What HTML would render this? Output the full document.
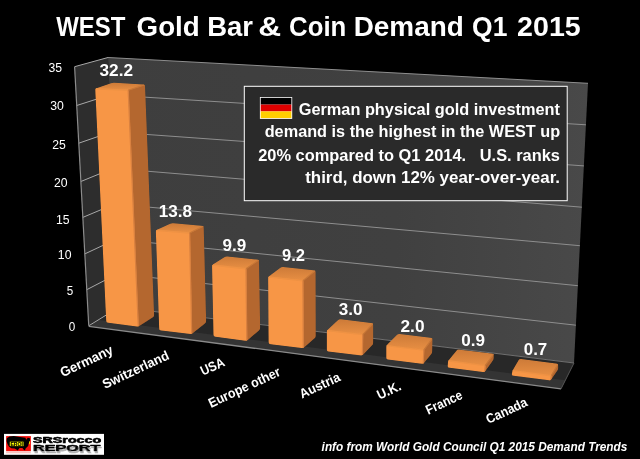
<!DOCTYPE html>
<html lang="en">
<head>
<meta charset="utf-8">
<title>WEST Gold Bar &amp; Coin Demand Q1 2015</title>
<style>
html,body{margin:0;padding:0;background:#000;}
body{width:640px;height:459px;overflow:hidden;position:relative;font-family:"Liberation Sans",Arial,sans-serif;}
</style>
</head>
<body>
<svg width="640" height="459" viewBox="0 0 640 459" style="position:absolute;left:0;top:0;display:block">
<defs>
<linearGradient id="gb" x1="0" y1="0" x2="1" y2="0"><stop offset="0" stop-color="#3e3e3e"/><stop offset="0.6" stop-color="#404040"/><stop offset="1" stop-color="#494949"/></linearGradient>
</defs>
<rect width="640" height="459" fill="#000"/>
<polygon points="74.60,66.70 108.00,57.50 119.00,307.20 88.75,325.80" fill="#2d2d2d"/>
<polygon points="108.00,57.50 588.00,83.30 574.00,363.00 119.00,307.20" fill="url(#gb)"/>
<polygon points="88.75,326.30 119.00,307.20 574.00,363.00 561.00,388.90" fill="#282828"/>
<polygon points="88.75,326.30 98.73,320.00 565.29,380.35 561.00,388.90" fill="#343434"/>
<polyline points="74.60,66.70 108.00,57.50" fill="none" stroke="#a8a8a8" stroke-width="1"/>
<polyline points="108.00,57.50 588.00,83.30" fill="none" stroke="#8e8e8e" stroke-width="1"/>
<polyline points="76.72,105.50 109.65,94.95" fill="none" stroke="#a8a8a8" stroke-width="1"/>
<polyline points="109.65,94.95 585.92,124.80" fill="none" stroke="#8e8e8e" stroke-width="1"/>
<polyline points="78.78,143.20 111.28,131.91" fill="none" stroke="#a8a8a8" stroke-width="1"/>
<polyline points="111.28,131.91 583.87,165.90" fill="none" stroke="#8e8e8e" stroke-width="1"/>
<polyline points="80.87,181.50 112.88,168.37" fill="none" stroke="#a8a8a8" stroke-width="1"/>
<polyline points="112.88,168.37 581.80,207.20" fill="none" stroke="#8e8e8e" stroke-width="1"/>
<polyline points="82.83,217.40 114.46,204.07" fill="none" stroke="#a8a8a8" stroke-width="1"/>
<polyline points="114.46,204.07 579.87,245.70" fill="none" stroke="#8e8e8e" stroke-width="1"/>
<polyline points="84.82,253.90 116.01,239.28" fill="none" stroke="#a8a8a8" stroke-width="1"/>
<polyline points="116.01,239.28 577.87,285.70" fill="none" stroke="#8e8e8e" stroke-width="1"/>
<polyline points="86.78,289.70 117.53,273.74" fill="none" stroke="#a8a8a8" stroke-width="1"/>
<polyline points="117.53,273.74 575.89,325.20" fill="none" stroke="#8e8e8e" stroke-width="1"/>
<polyline points="88.75,325.80 119.00,307.20" fill="none" stroke="#a8a8a8" stroke-width="1"/>
<polyline points="119.00,307.20 574.00,363.00" fill="none" stroke="#707070" stroke-width="1"/>
<polyline points="74.60,66.70 88.75,325.80" fill="none" stroke="#8c8c8c" stroke-width="1.2"/>
<polyline points="88.75,326.30 561.00,388.90" fill="none" stroke="#8a8a8a" stroke-width="1.3"/>
<polyline points="561.00,388.90 574.00,363.00" fill="none" stroke="#555" stroke-width="1"/>
<defs>
<linearGradient id="gt" x1="0" y1="0" x2="0" y2="1"><stop offset="0" stop-color="#cc7a38"/><stop offset="1" stop-color="#e88f43"/></linearGradient>
<clipPath id="c0"><path d="M95.28 90.50 Q95.20 88.70 96.90 88.11 L111.00 83.19 Q112.70 82.60 114.50 82.71 L143.20 84.49 Q145.00 84.60 145.07 86.40 L154.13 314.80 Q154.20 316.60 152.68 317.57 L139.82 325.83 Q138.30 326.80 136.52 326.56 L108.03 322.74 Q106.25 322.50 106.17 320.70Z"/></clipPath>
<clipPath id="c1"><path d="M155.86 232.00 Q155.80 230.20 157.44 229.46 L170.16 223.74 Q171.80 223.00 173.59 223.16 L201.91 225.74 Q203.70 225.90 203.75 227.70 L206.15 320.80 Q206.20 322.60 204.79 323.72 L193.11 332.98 Q191.70 334.10 189.91 333.89 L160.99 330.41 Q159.20 330.20 159.14 328.40Z"/></clipPath>
<clipPath id="c2"><path d="M212.04 266.80 Q212.00 265.00 213.52 264.04 L224.28 257.26 Q225.80 256.30 227.59 256.49 L257.21 259.61 Q259.00 259.80 259.03 261.60 L260.17 327.70 Q260.20 329.50 258.83 330.67 L248.17 339.73 Q246.80 340.90 245.02 340.66 L215.28 336.64 Q213.50 336.40 213.46 334.60Z"/></clipPath>
<clipPath id="c3"><path d="M268.11 278.70 Q268.10 276.90 269.54 275.82 L280.06 267.88 Q281.50 266.80 283.29 266.99 L313.81 270.21 Q315.60 270.40 315.61 272.20 L315.79 335.40 Q315.80 337.20 314.45 338.40 L304.65 347.10 Q303.30 348.30 301.51 348.07 L270.39 344.13 Q268.60 343.90 268.59 342.10Z"/></clipPath>
<clipPath id="c4"><path d="M326.80 332.30 Q326.80 330.50 328.13 329.28 L337.87 320.32 Q339.20 319.10 340.99 319.32 L371.41 323.08 Q373.20 323.30 373.20 325.10 L373.20 342.40 Q373.20 344.20 371.96 345.51 L363.64 354.29 Q362.40 355.60 360.61 355.39 L328.59 351.61 Q326.80 351.40 326.80 349.60Z"/></clipPath>
<clipPath id="c5"><path d="M386.25 347.40 Q386.25 345.60 387.52 344.33 L396.83 335.02 Q398.10 333.75 399.89 333.98 L430.71 337.87 Q432.50 338.10 432.46 339.90 L432.24 351.20 Q432.20 353.00 431.07 354.40 L424.43 362.60 Q423.30 364.00 421.51 363.78 L388.04 359.62 Q386.25 359.40 386.25 357.60Z"/></clipPath>
<clipPath id="c6"><path d="M447.94 362.59 Q448.10 360.80 449.25 359.41 L456.35 350.79 Q457.50 349.40 459.29 349.61 L491.96 353.54 Q493.75 353.75 493.75 355.55 L493.75 357.60 Q493.75 359.40 492.71 360.87 L485.64 370.83 Q484.60 372.30 482.81 372.07 L449.29 367.73 Q447.50 367.50 447.66 365.71Z"/></clipPath>
<clipPath id="c7"><path d="M512.15 372.37 Q512.50 370.60 513.41 369.04 L518.49 360.31 Q519.40 358.75 521.19 358.98 L556.31 363.52 Q558.10 363.75 558.17 365.55 L558.23 367.40 Q558.30 369.20 557.29 370.69 L551.61 379.11 Q550.60 380.60 548.81 380.37 L513.29 375.83 Q511.50 375.60 511.85 373.83Z"/></clipPath>
</defs>
<g clip-path="url(#c0)">
<polygon points="128.20,90.20 145.00,84.60 154.20,316.60 138.30,326.80" fill="#b4672f" stroke="#b4672f" stroke-width="0.6"/>
<polygon points="95.20,88.70 112.70,82.60 145.00,84.60 128.20,90.20" fill="url(#gt)" stroke="#dc863f" stroke-width="0.5"/>
<polygon points="95.20,88.70 128.20,90.20 138.30,326.80 106.25,322.50" fill="#f79646" stroke="#f79646" stroke-width="0.6"/>
<polyline points="95.20,88.70 128.20,90.20" fill="none" stroke="#ee9244" stroke-width="1.4"/>
<polyline points="128.20,90.20 138.30,326.80" fill="none" stroke="#d98140" stroke-width="1.2"/>
<polyline points="128.20,90.20 145.00,84.60" fill="none" stroke="#c87838" stroke-width="1.2"/>
</g>
<g clip-path="url(#c1)">
<polygon points="189.60,233.00 203.70,225.90 206.20,322.60 191.70,334.10" fill="#b4672f" stroke="#b4672f" stroke-width="0.6"/>
<polygon points="155.80,230.20 171.80,223.00 203.70,225.90 189.60,233.00" fill="url(#gt)" stroke="#dc863f" stroke-width="0.5"/>
<polygon points="155.80,230.20 189.60,233.00 191.70,334.10 159.20,330.20" fill="#f79646" stroke="#f79646" stroke-width="0.6"/>
<polyline points="155.80,230.20 189.60,233.00" fill="none" stroke="#ee9244" stroke-width="1.4"/>
<polyline points="189.60,233.00 191.70,334.10" fill="none" stroke="#d98140" stroke-width="1.2"/>
<polyline points="189.60,233.00 203.70,225.90" fill="none" stroke="#c87838" stroke-width="1.2"/>
</g>
<g clip-path="url(#c2)">
<polygon points="246.00,268.80 259.00,259.80 260.20,329.50 246.80,340.90" fill="#b4672f" stroke="#b4672f" stroke-width="0.6"/>
<polygon points="212.00,265.00 225.80,256.30 259.00,259.80 246.00,268.80" fill="url(#gt)" stroke="#dc863f" stroke-width="0.5"/>
<polygon points="212.00,265.00 246.00,268.80 246.80,340.90 213.50,336.40" fill="#f79646" stroke="#f79646" stroke-width="0.6"/>
<polyline points="212.00,265.00 246.00,268.80" fill="none" stroke="#ee9244" stroke-width="1.4"/>
<polyline points="246.00,268.80 246.80,340.90" fill="none" stroke="#d98140" stroke-width="1.2"/>
<polyline points="246.00,268.80 259.00,259.80" fill="none" stroke="#c87838" stroke-width="1.2"/>
</g>
<g clip-path="url(#c3)">
<polygon points="302.90,280.70 315.60,270.40 315.80,337.20 303.30,348.30" fill="#b4672f" stroke="#b4672f" stroke-width="0.6"/>
<polygon points="268.10,276.90 281.50,266.80 315.60,270.40 302.90,280.70" fill="url(#gt)" stroke="#dc863f" stroke-width="0.5"/>
<polygon points="268.10,276.90 302.90,280.70 303.30,348.30 268.60,343.90" fill="#f79646" stroke="#f79646" stroke-width="0.6"/>
<polyline points="268.10,276.90 302.90,280.70" fill="none" stroke="#ee9244" stroke-width="1.4"/>
<polyline points="302.90,280.70 303.30,348.30" fill="none" stroke="#d98140" stroke-width="1.2"/>
<polyline points="302.90,280.70 315.60,270.40" fill="none" stroke="#c87838" stroke-width="1.2"/>
</g>
<g clip-path="url(#c4)">
<polygon points="362.70,334.60 373.20,323.30 373.20,344.20 362.40,355.60" fill="#b4672f" stroke="#b4672f" stroke-width="0.6"/>
<polygon points="326.80,330.50 339.20,319.10 373.20,323.30 362.70,334.60" fill="url(#gt)" stroke="#dc863f" stroke-width="0.5"/>
<polygon points="326.80,330.50 362.70,334.60 362.40,355.60 326.80,351.40" fill="#f79646" stroke="#f79646" stroke-width="0.6"/>
<polyline points="326.80,330.50 362.70,334.60" fill="none" stroke="#ee9244" stroke-width="1.4"/>
<polyline points="362.70,334.60 362.40,355.60" fill="none" stroke="#d98140" stroke-width="1.2"/>
<polyline points="362.70,334.60 373.20,323.30" fill="none" stroke="#c87838" stroke-width="1.2"/>
</g>
<g clip-path="url(#c5)">
<polygon points="423.75,350.10 432.50,338.10 432.20,353.00 423.30,364.00" fill="#b4672f" stroke="#b4672f" stroke-width="0.6"/>
<polygon points="386.25,345.60 398.10,333.75 432.50,338.10 423.75,350.10" fill="url(#gt)" stroke="#dc863f" stroke-width="0.5"/>
<polygon points="386.25,345.60 423.75,350.10 423.30,364.00 386.25,359.40" fill="#f79646" stroke="#f79646" stroke-width="0.6"/>
<polyline points="386.25,345.60 423.75,350.10" fill="none" stroke="#ee9244" stroke-width="1.4"/>
<polyline points="423.75,350.10 423.30,364.00" fill="none" stroke="#d98140" stroke-width="1.2"/>
<polyline points="423.75,350.10 432.50,338.10" fill="none" stroke="#c87838" stroke-width="1.2"/>
</g>
<g clip-path="url(#c6)">
<polygon points="485.20,365.60 493.75,353.75 493.75,359.40 484.60,372.30" fill="#b4672f" stroke="#b4672f" stroke-width="0.6"/>
<polygon points="448.10,360.80 457.50,349.40 493.75,353.75 485.20,365.60" fill="url(#gt)" stroke="#dc863f" stroke-width="0.5"/>
<polygon points="448.10,360.80 485.20,365.60 484.60,372.30 447.50,367.50" fill="#f79646" stroke="#f79646" stroke-width="0.6"/>
<polyline points="448.10,360.80 485.20,365.60" fill="none" stroke="#ee9244" stroke-width="1.4"/>
<polyline points="485.20,365.60 484.60,372.30" fill="none" stroke="#d98140" stroke-width="1.2"/>
<polyline points="485.20,365.60 493.75,353.75" fill="none" stroke="#c87838" stroke-width="1.2"/>
</g>
<g clip-path="url(#c7)">
<polygon points="551.25,375.80 558.10,363.75 558.30,369.20 550.60,380.60" fill="#b4672f" stroke="#b4672f" stroke-width="0.6"/>
<polygon points="512.50,370.60 519.40,358.75 558.10,363.75 551.25,375.80" fill="url(#gt)" stroke="#dc863f" stroke-width="0.5"/>
<polygon points="512.50,370.60 551.25,375.80 550.60,380.60 511.50,375.60" fill="#f79646" stroke="#f79646" stroke-width="0.6"/>
<polyline points="512.50,370.60 551.25,375.80" fill="none" stroke="#ee9244" stroke-width="1.4"/>
<polyline points="551.25,375.80 550.60,380.60" fill="none" stroke="#d98140" stroke-width="1.2"/>
<polyline points="551.25,375.80 558.10,363.75" fill="none" stroke="#c87838" stroke-width="1.2"/>
</g>
<g font-family="'Liberation Sans', Arial, sans-serif" fill="#fff">
<text x="56.25" y="36.25" font-size="26.9" font-weight="bold" textLength="69.25" lengthAdjust="spacingAndGlyphs">WEST</text>
<text x="136.60" y="36.25" font-size="26.9" font-weight="bold" textLength="63.20" lengthAdjust="spacingAndGlyphs">Gold</text>
<text x="207.20" y="36.25" font-size="26.9" font-weight="bold" textLength="45.80" lengthAdjust="spacingAndGlyphs">Bar</text>
<text x="258.20" y="36.25" font-size="26.9" font-weight="bold" textLength="22.90" lengthAdjust="spacingAndGlyphs">&amp;</text>
<text x="289.10" y="36.25" font-size="26.9" font-weight="bold" textLength="57.20" lengthAdjust="spacingAndGlyphs">Coin</text>
<text x="353.70" y="36.25" font-size="26.9" font-weight="bold" textLength="110.10" lengthAdjust="spacingAndGlyphs">Demand</text>
<text x="472.10" y="36.25" font-size="26.9" font-weight="bold" textLength="35.30" lengthAdjust="spacingAndGlyphs">Q1</text>
<text x="517.10" y="36.25" font-size="26.9" font-weight="bold" textLength="63.60" lengthAdjust="spacingAndGlyphs">2015</text>
<text x="48.40" y="72.30" font-size="11.9" textLength="13.6" lengthAdjust="spacingAndGlyphs">35</text>
<text x="50.29" y="110.30" font-size="11.9" textLength="13.6" lengthAdjust="spacingAndGlyphs">30</text>
<text x="52.18" y="149.00" font-size="11.9" textLength="13.6" lengthAdjust="spacingAndGlyphs">25</text>
<text x="54.07" y="186.60" font-size="11.9" textLength="13.6" lengthAdjust="spacingAndGlyphs">20</text>
<text x="55.96" y="224.30" font-size="11.9" textLength="13.6" lengthAdjust="spacingAndGlyphs">15</text>
<text x="57.85" y="259.10" font-size="11.9" textLength="13.6" lengthAdjust="spacingAndGlyphs">10</text>
<text x="66.84" y="295.00" font-size="11.9" textLength="6.5" lengthAdjust="spacingAndGlyphs">5</text>
<text x="68.73" y="330.80" font-size="11.9" textLength="6.5" lengthAdjust="spacingAndGlyphs">0</text>
<text x="99.5" y="75.75" font-size="16" font-weight="bold" textLength="33.5" lengthAdjust="spacingAndGlyphs">32.2</text>
<text x="158.75" y="217" font-size="16" font-weight="bold" textLength="33.3" lengthAdjust="spacingAndGlyphs">13.8</text>
<text x="222.5" y="251.25" font-size="16" font-weight="bold" textLength="23.75" lengthAdjust="spacingAndGlyphs">9.9</text>
<text x="282" y="261.25" font-size="16" font-weight="bold" textLength="23" lengthAdjust="spacingAndGlyphs">9.2</text>
<text x="338.75" y="315" font-size="16" font-weight="bold" textLength="23.75" lengthAdjust="spacingAndGlyphs">3.0</text>
<text x="400.5" y="332" font-size="16" font-weight="bold" textLength="24" lengthAdjust="spacingAndGlyphs">2.0</text>
<text x="461.25" y="345.75" font-size="16" font-weight="bold" textLength="23.75" lengthAdjust="spacingAndGlyphs">0.9</text>
<text x="523.75" y="355" font-size="16" font-weight="bold" textLength="23.5" lengthAdjust="spacingAndGlyphs">0.7</text>
<text transform="translate(114.2,353.0) rotate(-25.3)" x="-57" y="0" font-size="13.4" font-weight="bold" textLength="57" lengthAdjust="spacingAndGlyphs">Germany</text>
<text transform="translate(170.2,358.6) rotate(-25)" x="-72" y="0" font-size="13.4" font-weight="bold" textLength="72" lengthAdjust="spacingAndGlyphs">Switzerland</text>
<text transform="translate(225.7,365.3) rotate(-25)" x="-25" y="0" font-size="13.4" font-weight="bold" textLength="25" lengthAdjust="spacingAndGlyphs">USA</text>
<text transform="translate(281.4,375) rotate(-25)" x="-77.8" y="0" font-size="13.4" font-weight="bold" textLength="77.8" lengthAdjust="spacingAndGlyphs">Europe other</text>
<text transform="translate(341.4,380.3) rotate(-25)" x="-43.5" y="0" font-size="13.4" font-weight="bold" textLength="43.5" lengthAdjust="spacingAndGlyphs">Austria</text>
<text transform="translate(402.1,389.2) rotate(-25)" x="-25" y="0" font-size="13.4" font-weight="bold" textLength="25" lengthAdjust="spacingAndGlyphs">U.K.</text>
<text transform="translate(463.5,398.2) rotate(-25)" x="-39" y="0" font-size="13.4" font-weight="bold" textLength="39" lengthAdjust="spacingAndGlyphs">France</text>
<text transform="translate(528.5,405.5) rotate(-25)" x="-44" y="0" font-size="13.4" font-weight="bold" textLength="44" lengthAdjust="spacingAndGlyphs">Canada</text>
<rect x="244.3" y="86.3" width="322.9" height="114.4" fill="#2a2a2a" stroke="#fff" stroke-width="1"/>
<rect x="259.9" y="97" width="32.3" height="21.9" fill="#fff"/>
<rect x="260.7" y="97.8" width="30.7" height="6.8" fill="#000"/>
<rect x="260.7" y="104.6" width="30.7" height="6.8" fill="#dd0000"/>
<rect x="260.7" y="111.4" width="30.7" height="6.7" fill="#ffce00"/>
<text x="298.7" y="114.6" font-size="16.75" font-weight="bold" textLength="261.2" lengthAdjust="spacingAndGlyphs" xml:space="preserve">German physical gold investment</text>
<text x="264.7" y="137.3" font-size="16.75" font-weight="bold" textLength="295.5" lengthAdjust="spacingAndGlyphs" xml:space="preserve">demand is the highest in the WEST up</text>
<text x="258.2" y="160.5" font-size="16.75" font-weight="bold" textLength="301.8" lengthAdjust="spacingAndGlyphs" xml:space="preserve">20% compared to Q1 2014.   U.S. ranks</text>
<text x="305.2" y="183.4" font-size="16.75" font-weight="bold" textLength="254.8" lengthAdjust="spacingAndGlyphs" xml:space="preserve">third, down 12% year-over-year.</text>
<text x="321.6" y="451.4" font-size="12.1" font-weight="bold" font-style="italic" textLength="305.8" lengthAdjust="spacingAndGlyphs">info from World Gold Council Q1 2015 Demand Trends</text>
</g>
<rect x="4" y="433.9" width="100" height="20.9" fill="#fff"/>
<rect x="6.1" y="436.1" width="24.8" height="15" fill="#f2100c"/>
<rect x="6.1" y="451.1" width="24.8" height="2.2" fill="#f9c4c0"/>
<polygon points="6.84,438.20 9.42,436.41 13.72,436.09 19.97,436.88 25.44,437.66 26.22,439.77 27.78,437.81 29.97,438.20 29.97,440.94 28.56,443.67 28.17,446.02 26.61,447.58 25.44,448.75 25.05,450.47 23.48,449.53 22.47,447.97 19.58,448.12 17.62,450.47 16.06,449.14 14.50,448.59 11.38,448.36 9.03,446.80 7.47,444.06 6.53,440.94" fill="#000"/>
<rect x="9.8" y="441.7" width="13.7" height="4.4" fill="#ffff00"/>
<rect x="29" y="441.4" width="0.9" height="2.8" fill="#e8e800"/>
<text x="10.4" y="445.7" font-family="'Liberation Sans', Arial, sans-serif" font-size="4.8" font-weight="bold" fill="#000" stroke="#000" stroke-width="0.1" textLength="12.5" lengthAdjust="spacingAndGlyphs">EROI</text>
<g font-family="'Liberation Sans', Arial, sans-serif" font-weight="bold" fill="#000" stroke="#000" stroke-width="0.55" stroke-linejoin="round">
<filter id="sh" x="-5%" y="-20%" width="110%" height="160%"><feOffset in="SourceAlpha" dx="0.6" dy="1.9" result="o"/><feFlood flood-color="#b0b0b0"/><feComposite in2="o" operator="in"/><feMerge><feMergeNode/><feMergeNode in="SourceGraphic"/></feMerge></filter>
<text x="33" y="443" font-size="8.8" textLength="68.2" lengthAdjust="spacingAndGlyphs">SRSrocco</text>
<text x="33" y="451.3" font-size="8.5" textLength="67.3" lengthAdjust="spacingAndGlyphs" filter="url(#sh)">REPORT</text>
</g>
</svg>
</body>
</html>
